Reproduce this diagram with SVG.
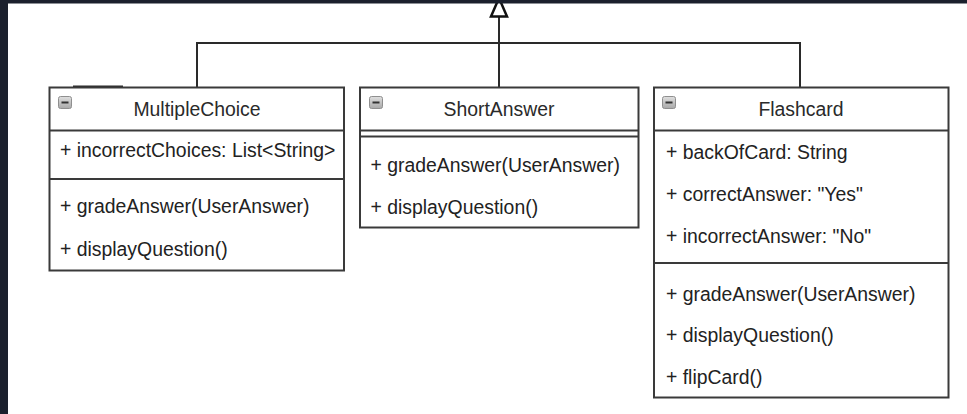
<svg xmlns="http://www.w3.org/2000/svg" width="967" height="414" viewBox="0 0 967 414">
  <style>
    .box{fill:#ffffff;stroke:#3a3a3a;stroke-width:2}
    .div{stroke:#3a3a3a;stroke-width:2;fill:none}
    .t{font-family:"Liberation Sans",Arial,sans-serif;font-size:19.4px;fill:#222222}
    .title{text-anchor:middle;fill:#2a2a2a}
    .conn{stroke:#2a2a2a;stroke-width:2;fill:none}
    .frame{fill:#1b202d}
  </style>
  <defs>
    <linearGradient id="icoGrad" x1="0" y1="0" x2="0" y2="1">
      <stop offset="0" stop-color="#e0e0e0"/>
      <stop offset="1" stop-color="#a8a8a8"/>
    </linearGradient>
    <g id="collapse">
      <rect x="0.5" y="0.5" width="13" height="12" rx="2" fill="url(#icoGrad)" stroke="#8f8f8f" stroke-width="1"/>
      <line x1="3.5" y1="6.5" x2="10.5" y2="6.5" stroke="#333" stroke-width="2"/>
    </g>
  </defs>

  <rect x="0" y="0" width="967" height="414" fill="#ffffff"/>

  <g id="connectors">
    <path class="conn" d="M197 88 V43 H800 V88"/>
    <path class="conn" d="M499 88 V16.5"/>
    <polygon points="499,-2 491,16.5 507,16.5" fill="#ffffff" stroke="#111111" stroke-width="2.5" stroke-linejoin="miter"/>
    <line x1="73" y1="86.5" x2="123" y2="86.5" stroke="#2a2a2a" stroke-width="2"/>
  </g>

  <g id="MultipleChoice">
    <rect class="box" x="49.5" y="87.5" width="294.5" height="183"/>
    <line class="div" x1="49.5" y1="130.5" x2="344" y2="130.5"/>
    <line class="div" x1="49.5" y1="179" x2="344" y2="179"/>
    <use href="#collapse" x="58" y="96"/>
    <text class="t title" x="197" y="116">MultipleChoice</text>
    <text class="t" x="60" y="157">+ incorrectChoices: List&lt;String&gt;</text>
    <text class="t" x="60" y="213">+ gradeAnswer(UserAnswer)</text>
    <text class="t" x="60" y="256">+ displayQuestion()</text>
  </g>

  <g id="ShortAnswer">
    <rect class="box" x="360" y="87.5" width="278.5" height="140"/>
    <line class="div" x1="360" y1="130.5" x2="638.5" y2="130.5"/>
    <line class="div" x1="360" y1="136.5" x2="638.5" y2="136.5"/>
    <use href="#collapse" x="369" y="96"/>
    <text class="t title" x="499" y="116">ShortAnswer</text>
    <text class="t" x="370.5" y="172">+ gradeAnswer(UserAnswer)</text>
    <text class="t" x="370.5" y="214">+ displayQuestion()</text>
  </g>

  <g id="Flashcard">
    <rect class="box" x="654" y="87.5" width="294.5" height="310"/>
    <line class="div" x1="654" y1="130.5" x2="948.5" y2="130.5"/>
    <line class="div" x1="654" y1="263" x2="948.5" y2="263"/>
    <use href="#collapse" x="662" y="96"/>
    <text class="t title" x="801" y="116">Flashcard</text>
    <text class="t" x="666" y="159">+ backOfCard: String</text>
    <text class="t" x="666" y="201">+ correctAnswer: "Yes"</text>
    <text class="t" x="666" y="243">+ incorrectAnswer: "No"</text>
    <text class="t" x="666" y="301">+ gradeAnswer(UserAnswer)</text>
    <text class="t" x="666" y="342">+ displayQuestion()</text>
    <text class="t" x="666" y="384">+ flipCard()</text>
  </g>

  <rect class="frame" x="0" y="0" width="967" height="3.5"/>
  <rect class="frame" x="0" y="0" width="8" height="414"/>
</svg>
